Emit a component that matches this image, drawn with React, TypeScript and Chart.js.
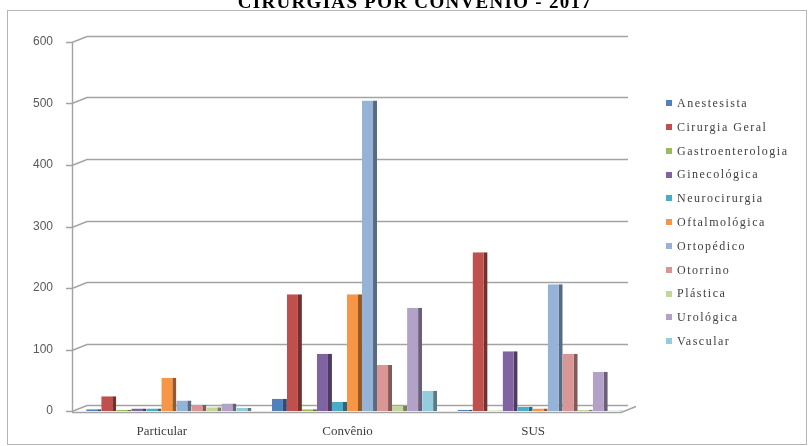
import React, { useEffect, useRef } from "react";
import { Chart, registerables } from "chart.js";

Chart.register(...registerables);

// Surgery counts by payer type, 2017
const chartTitle = "CIRURGIAS POR CONVÊNIO - 2017";
const categories = ["Particular", "Convênio", "SUS"];
const specialties = [
  "Anestesista",
  "Cirurgia Geral",
  "Gastroenterologia",
  "Ginecológica",
  "Neurocirurgia",
  "Oftalmológica",
  "Ortopédico",
  "Otorrino",
  "Plástica",
  "Urológica",
  "Vascular",
];

const anestesista = [3, 20, 2];
const cirurgiaGeral = [24, 190, 258];
const gastroenterologia = [2, 3, 1];
const ginecologica = [4, 93, 97];
const neurocirurgia = [4, 15, 7];
const oftalmologica = [54, 190, 4];
const ortopedico = [17, 505, 206];
const otorrino = [10, 75, 93];
const plastica = [6, 8, 2];
const urologica = [12, 168, 64];
const vascular = [5, 33, 1];

const seriesValues = [
  anestesista,
  cirurgiaGeral,
  gastroenterologia,
  ginecologica,
  neurocirurgia,
  oftalmologica,
  ortopedico,
  otorrino,
  plastica,
  urologica,
  vascular,
];

const yTicks = [0, 100, 200, 300, 400, 500, 600];

const palette = [
  "#4F81BD",
  "#C0504D",
  "#9BBB59",
  "#8064A2",
  "#4BACC6",
  "#F79646",
  "#95B3D7",
  "#D99694",
  "#C3D69B",
  "#B3A2C7",
  "#93CDDD",
];

function shade(hex: string, f: number): string {
  const n = parseInt(hex.slice(1), 16);
  const r = Math.round(((n >> 16) & 255) * f);
  const g = Math.round(((n >> 8) & 255) * f);
  const b = Math.round((n & 255) * f);
  return `rgb(${r},${g},${b})`;
}

const DEPTH_X = 15;
const DEPTH_Y = -6;

// Outer frame and clipped heading
const framePlugin = {
  id: "frame",
  beforeDraw(chart: any) {
    const { ctx, width, height } = chart;
    ctx.save();
    ctx.fillStyle = "#ffffff";
    ctx.fillRect(0, 0, width, height);
    ctx.strokeStyle = "#b5b5b5";
    ctx.lineWidth = 1;
    ctx.strokeRect(7.5, 10.5, width - 10, height - 12);
    ctx.font = "bold 19px 'Liberation Serif'";
    (ctx as any).letterSpacing = "1.3px";
    ctx.fillStyle = "#000";
    ctx.textAlign = "center";
    ctx.textBaseline = "alphabetic";
    ctx.fillText(chartTitle, 415, 8);
    ctx.restore();
  },
};

// Back wall gridlines, side axis and floor edge in a light perspective
const wallPlugin = {
  id: "walls",
  beforeDatasetsDraw(chart: any) {
    const { ctx, chartArea, scales } = chart;
    const y = scales.y;
    const ax = chartArea.left - 4;
    const right = chartArea.right;
    ctx.save();
    ctx.strokeStyle = "#a3a3a3";
    ctx.lineWidth = 1.4;
    yTicks.forEach((v) => {
      const py = Math.round(y.getPixelForValue(v)) + 0.5;
      ctx.beginPath();
      ctx.moveTo(ax - 6, py);
      ctx.lineTo(ax, py);
      ctx.lineTo(ax + DEPTH_X, py + DEPTH_Y);
      ctx.lineTo(right - 5, py + DEPTH_Y);
      ctx.stroke();
    });
    const top = y.getPixelForValue(yTicks[yTicks.length - 1]);
    const base = Math.round(y.getPixelForValue(0)) + 0.5;
    ctx.beginPath();
    ctx.moveTo(ax + 0.5, top);
    ctx.lineTo(ax + 0.5, base);
    ctx.stroke();
    ctx.beginPath();
    ctx.moveTo(ax, base + 1);
    ctx.lineTo(right - 12, base + 1);
    ctx.lineTo(right - 12 + DEPTH_X, base + 1 + DEPTH_Y);
    ctx.stroke();
    ctx.restore();
  },
};

export default function App() {
  const canvasRef = useRef<HTMLCanvasElement | null>(null);

  useEffect(() => {
    const canvas = canvasRef.current;
    if (!canvas) return;
    const chart = new Chart(canvas, {
      type: "bar",
      data: {
        labels: categories,
        datasets: specialties.map((name, i) => ({
          label: name,
          data: seriesValues[i],
          backgroundColor: palette[i],
          borderColor: shade(palette[i], 0.6),
          borderWidth: { top: 0, right: 4, bottom: 0, left: 0 },
          borderSkipped: false,
          categoryPercentage: 0.89,
          barPercentage: 1.0,
        })),
      },
      options: {
        responsive: false,
        animation: false,
        devicePixelRatio: 1,
        layout: { padding: { left: 26, right: 176, top: 42, bottom: 0 } },
        plugins: {
          legend: { display: false },
          title: { display: false },
          tooltip: { enabled: false },
        },
        scales: {
          x: {
            grid: { display: false, drawTicks: false },
            border: { display: false },
            ticks: {
              padding: 13,
              labelOffset: -7,
              color: "#3f3f3f",
              font: { family: "'Liberation Serif'", size: 13 },
            },
            afterFit(s: any) {
              s.height = 35;
            },
          },
          y: {
            min: 0,
            max: 600,
            grid: { display: false, drawTicks: false },
            border: { display: false },
            afterBuildTicks(s: any) {
              s.ticks = yTicks.map((v) => ({ value: v }));
            },
            ticks: {
              padding: 23,
              color: "#595959",
              font: { family: "'Liberation Sans'", size: 12 },
            },
            afterFit(s: any) {
              s.width = 50;
            },
          },
        },
      },
      plugins: [framePlugin, wallPlugin],
    });
    return () => chart.destroy();
  }, []);

  return (
    <div
      style={{
        position: "fixed",
        left: 0,
        top: 0,
        width: 809,
        height: 446,
        background: "#fff",
        overflow: "hidden",
      }}
    >
      <canvas
        ref={canvasRef}
        width={809}
        height={446}
        style={{ display: "block", width: 809, height: 446 }}
      />
      {specialties.map((name, i) => (
        <div
          key={name}
          style={{
            position: "absolute",
            left: 666,
            top: 91 + i * 23.8,
            height: 24,
            lineHeight: "24px",
            fontFamily: "'Liberation Serif'",
            fontSize: 12,
            letterSpacing: "1.5px",
            color: "#404040",
            whiteSpace: "nowrap",
          }}
        >
          <span
            style={{
              display: "inline-block",
              width: 6,
              height: 6,
              marginRight: 5,
              verticalAlign: "middle",
              position: "relative",
              top: -1,
              background: palette[i],
            }}
          />
          {name}
        </div>
      ))}
    </div>
  );
}
